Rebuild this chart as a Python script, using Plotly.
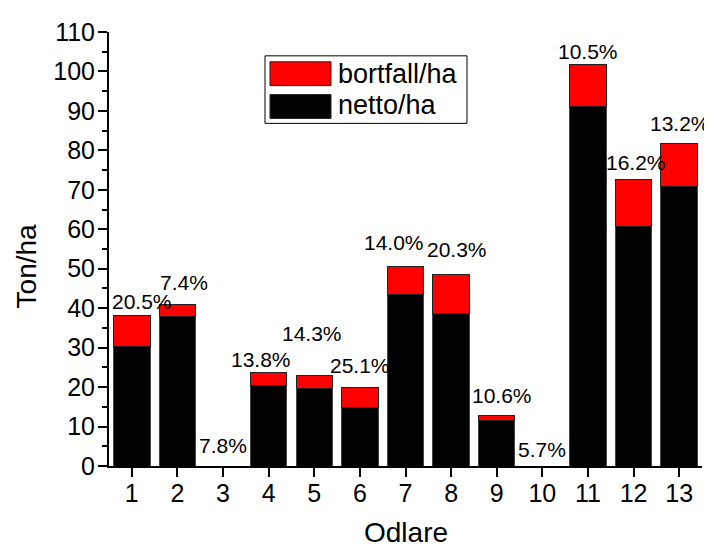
import plotly.graph_objects as go

# ---- data ----
odlare = list(range(1, 14))
netto = [30.4, 38.0, 0, 20.4, 19.6, 14.9, 43.4, 38.7, 11.5, 0, 91.0, 60.8, 70.9]
bortfall = [7.8, 3.0, 0, 3.2, 3.3, 5.0, 7.1, 9.9, 1.4, 0, 10.7, 11.8, 10.8]
pct_labels = ["20.5%", "7.4%", "7.8%", "13.8%", "14.3%", "25.1%", "14.0%",
              "20.3%", "10.6%", "5.7%", "10.5%", "16.2%", "13.2%"]

# label offsets (pixels) relative to bar top
lab_dx = [10, 7, 0, -8, -2, 0, -12, 6, 5, 0, 0, 2, 1]
lab_dy = [14, 22, 21, 13, 42, 22, 24, 25, 20, 17, 13, 17, 20]

# page body has an 8px margin; size the figure so it fills the window exactly
OFF = 8
W, H = 712 - OFF, 548 - OFF
PL, PR, PT, PB = 109, 702, 29, 466   # plot box in window pixels
L, T = PL - OFF, PT - OFF
R = W - L - (PR - PL)
B = H - (PB - OFF)
PW, PH = PR - PL, PB - PT
FONT = "Liberation Sans, Arial, sans-serif"


def px(x):
    return (x - PL) / PW


def py(y):
    return (PB - y) / PH


fig = go.Figure()
fig.add_trace(go.Bar(x=odlare, y=netto, name="netto/ha", width=0.8,
                     marker=dict(color="black", line=dict(color="#444", width=1))))
fig.add_trace(go.Bar(x=odlare, y=bortfall, name="bortfall/ha", width=0.8,
                     marker=dict(color="#ff0000", line=dict(color="#222", width=1))))

annotations = []
for i, x in enumerate(odlare):
    total = netto[i] + bortfall[i]
    annotations.append(dict(x=x, y=total, text=pct_labels[i], showarrow=False,
                            xref="x", yref="y", xanchor="center", yanchor="middle",
                            xshift=lab_dx[i], yshift=lab_dy[i],
                            font=dict(family=FONT, size=21, color="black")))

# axis titles
annotations.append(dict(x=px(26), y=py(265), xref="paper", yref="paper", text="Ton/ha",
                        showarrow=False, textangle=-90, xanchor="center", yanchor="middle",
                        font=dict(family=FONT, size=28, color="black")))
annotations.append(dict(x=px(406), y=py(533), xref="paper", yref="paper", text="Odlare",
                        showarrow=False, xanchor="center", yanchor="middle",
                        font=dict(family=FONT, size=28, color="black")))

# custom legend
annotations.append(dict(x=px(336), y=py(71), xref="paper", yref="paper", text="bortfall/ha",
                        showarrow=False, xanchor="left", yanchor="middle",
                        font=dict(family=FONT, size=27, color="black")))
annotations.append(dict(x=px(336), y=py(103), xref="paper", yref="paper", text="netto/ha",
                        showarrow=False, xanchor="left", yanchor="middle",
                        font=dict(family=FONT, size=27, color="black")))

shapes = [
    dict(type="rect", xref="paper", yref="paper", x0=px(265), x1=px(467), y0=py(121), y1=py(53),
         line=dict(color="black", width=1), fillcolor="white", layer="above"),
    dict(type="rect", xref="paper", yref="paper", x0=px(270), x1=px(331), y0=py(83), y1=py(59),
         line=dict(color="#222", width=1), fillcolor="#ff0000", layer="above"),
    dict(type="rect", xref="paper", yref="paper", x0=px(270), x1=px(331), y0=py(116), y1=py(92),
         line=dict(color="#222", width=1), fillcolor="black", layer="above"),
]

fig.update_layout(
    width=W, height=H,
    margin=dict(l=L, r=R, t=T, b=B, pad=0),
    paper_bgcolor="white", plot_bgcolor="white",
    barmode="stack", showlegend=False,
    font=dict(family=FONT, color="black"),
    annotations=annotations, shapes=shapes,
)
fig.update_xaxes(range=[0.5, 13.5], tickvals=odlare, ticks="outside", ticklen=9, tickwidth=1.5,
                 tickcolor="black", showline=True, linecolor="black", linewidth=2,
                 showgrid=False, zeroline=False, tickfont=dict(size=25, family=FONT),
                 ticklabelstandoff=-5)
fig.update_yaxes(range=[0, 110], dtick=10, ticks="outside", ticklen=9, tickwidth=1.5,
                 tickcolor="black", showline=True, linecolor="black", linewidth=2,
                 showgrid=False, zeroline=False, tickfont=dict(size=25, family=FONT),
                 ticklabelstandoff=-2,
                 minor=dict(dtick=5, ticks="outside", ticklen=5, tickwidth=1.5, tickcolor="black"))

fig.write_html("out.html")
